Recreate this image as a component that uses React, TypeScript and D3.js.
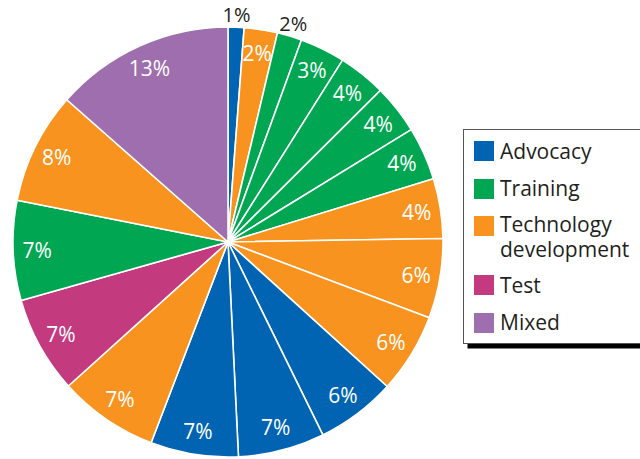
import React from "react";
import * as d3 from "d3";

const categories = ["Advocacy", "Training", "Technology development", "Test", "Mixed"];
const categoryColors = ["#0064b2", "#00a651", "#f7931e", "#c33a7f", "#9e6eae"];

// slices clockwise from 12 o'clock
const sliceCategory = [
  "Advocacy", "Technology development", "Training", "Training", "Training", "Training", "Training",
  "Technology development", "Technology development", "Technology development",
  "Advocacy", "Advocacy", "Advocacy", "Technology development", "Test", "Training",
  "Technology development", "Mixed",
];
const sliceValues = [1.2, 2.5, 1.85, 3.4, 3.6, 3.7, 4.0, 4.5, 6.0, 6.0, 6.0, 6.5, 6.6, 7.5, 7.3, 7.5, 8.4, 13.5];
const sliceLabels = ["1%", "2%", "2%", "3%", "4%", "4%", "4%", "4%", "6%", "6%", "6%", "7%", "7%", "7%", "7%", "7%", "8%", "13%"];
const outsideLabel = [true, false, true, false, false, false, false, false, false, false, false, false, false, false, false, false, false, false];

const legendLabels = [["Advocacy"], ["Training"], ["Technology", "development"], ["Test"], ["Mixed"]];

export default function App() {
  const width = 640;
  const height = 459;
  const cx = 228;
  const cy = 242;
  const r = 215;
  const color = d3.scaleOrdinal<string, string>().domain(categories).range(categoryColors);
  const pie = d3.pie<number>().sort(null).value((d) => d);
  const arcs = pie(sliceValues);
  const arc = d3.arc<d3.PieArcDatum<number>>().innerRadius(0).outerRadius(r);
  const inLabelArc = d3.arc<d3.PieArcDatum<number>>().innerRadius(191).outerRadius(191);
  const outLabelArc = d3.arc<d3.PieArcDatum<number>>().innerRadius(228).outerRadius(228);
  const font = "'Open Sans', 'Noto Sans', sans-serif";

  const legendX = 463.5;
  const legendY = 129.5;
  const legendW = 190;
  const legendH = 214;
  const swatchY = [141, 179, 216, 275, 313];
  const textY = [[159], [196], [232, 257], [293], [330]];

  return (
    <svg width={width} height={height} style={{ position: "absolute", left: 0, top: 0 }}>
      <rect width={width} height={height} fill="#fff" />
      <g transform={`translate(${cx},${cy})`}>
        {arcs.map((a, i) => (
          <path key={i} d={arc(a) || ""} fill={color(sliceCategory[i])} stroke="#fff" strokeWidth={1.6} strokeLinejoin="round" />
        ))}
        {arcs.map((a, i) => {
          const [x, y] = outsideLabel[i] ? outLabelArc.centroid(a) : inLabelArc.centroid(a);
          return (
            <text
              key={i}
              x={x}
              y={y}
              textAnchor="middle"
              dominantBaseline="central"
              fontFamily={font}
              fontSize={outsideLabel[i] ? 20 : 21}
              fill={outsideLabel[i] ? "#231f20" : "#fff"}
            >
              {sliceLabels[i]}
            </text>
          );
        })}
      </g>
      <g>
        <rect x={legendX + 4} y={legendY + 5} width={legendW} height={legendH} fill="#000" />
        <rect x={legendX} y={legendY} width={legendW} height={legendH} fill="#fff" stroke="#555" strokeWidth={1} />
        {categories.map((c, i) => (
          <g key={c}>
            <rect x={474} y={swatchY[i]} width={20} height={20} fill={color(c)} />
            {legendLabels[i].map((line, j) => (
              <text key={j} x={500} y={textY[i][j]} fontFamily={font} fontSize={21} fill="#231f20">
                {line}
              </text>
            ))}
          </g>
        ))}
      </g>
    </svg>
  );
}
